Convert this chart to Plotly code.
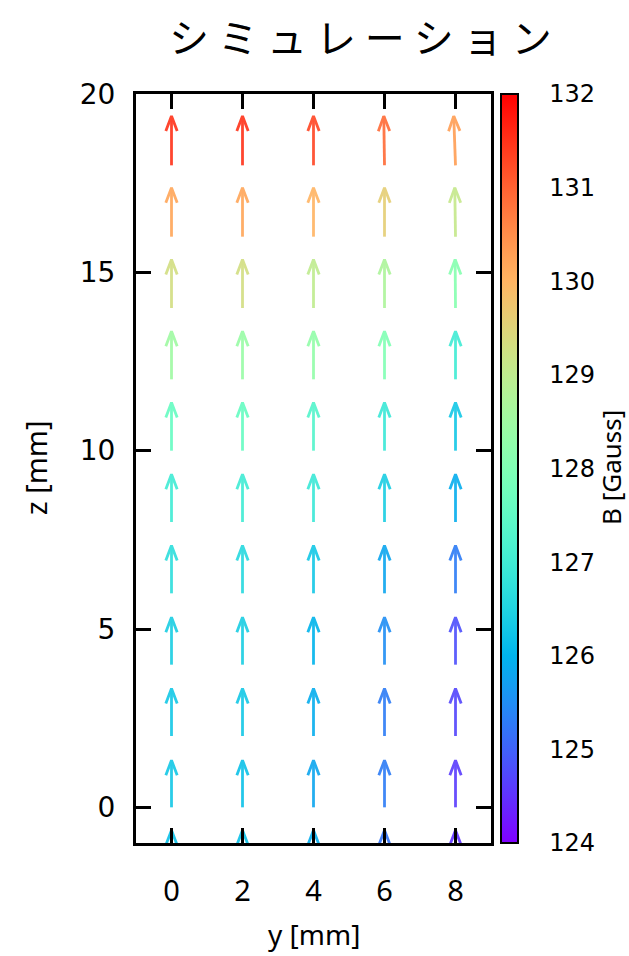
import math
import plotly.graph_objects as go
from plotly.colors import sample_colorscale

# ---------------- data ----------------
y_positions = [0, 2, 4, 6, 8]
z_positions = [-2, 0, 2, 4, 6, 8, 10, 12, 14, 16, 18]

# |B| in Gauss, one row per z position (bottom -> top), columns follow y_positions
B_z_m2 = [126.2, 126.2, 125.9, 125.2, 124.5]
B_z_0 = [126.3, 126.2, 125.8, 125.3, 124.6]
B_z_2 = [126.3, 126.3, 125.9, 125.3, 124.7]
B_z_4 = [126.4, 126.4, 126.0, 125.5, 124.8]
B_z_6 = [126.7, 126.6, 126.3, 125.8, 125.3]
B_z_8 = [127.0, 127.0, 126.9, 126.4, 125.9]
B_z_10 = [127.6, 127.6, 127.3, 126.9, 126.3]
B_z_12 = [128.5, 128.4, 128.3, 128.0, 127.0]
B_z_14 = [129.3, 129.3, 129.0, 128.7, 128.1]
B_z_16 = [130.2, 130.2, 130.0, 129.6, 129.1]
B_z_18 = [131.5, 131.5, 131.3, 130.9, 130.3]
B_rows = [B_z_m2, B_z_0, B_z_2, B_z_4, B_z_6, B_z_8, B_z_10, B_z_12, B_z_14, B_z_16, B_z_18]

# arrow components (mm) as drawn by the vector plot
dy_rows = [
    [0, 0, 0, 0, 0],
    [0, 0, 0, 0, 0],
    [0, 0, 0, 0, 0],
    [0, 0, 0, 0, 0],
    [0, 0, 0, 0, 0],
    [0, 0, 0, 0, 0],
    [0, 0, 0, 0, 0],
    [0, 0, 0, 0, 0],
    [0, 0, 0, 0, -0.01],
    [0, 0, 0, 0, -0.02],
    [0, 0, 0, -0.02, -0.05],
]
dz_rows = [
    [1.36, 1.36, 1.36, 1.36, 1.36],
    [1.32, 1.32, 1.32, 1.32, 1.32],
    [1.33, 1.33, 1.33, 1.33, 1.33],
    [1.33, 1.33, 1.33, 1.33, 1.33],
    [1.34, 1.34, 1.34, 1.34, 1.34],
    [1.34, 1.34, 1.34, 1.34, 1.34],
    [1.35, 1.35, 1.35, 1.35, 1.35],
    [1.35, 1.35, 1.35, 1.35, 1.35],
    [1.36, 1.36, 1.36, 1.36, 1.36],
    [1.37, 1.37, 1.37, 1.37, 1.37],
    [1.38, 1.38, 1.38, 1.38, 1.38],
]

cb_ticks = [124, 125, 126, 127, 128, 129, 130, 131, 132]
x_ticks = [0, 2, 4, 6, 8]
z_ticks = [0, 5, 10, 15, 20]
B_MIN, B_MAX = 124, 132

# ---------------- style ----------------
def rainbow(t):
    r = min(1.0, abs(2 * t - 0.5))
    g = math.sin(math.pi * t)
    b = math.cos(math.pi * t / 2)
    return "rgb(%d,%d,%d)" % (round(255 * r), round(255 * max(g, 0)), round(255 * max(b, 0)))

colorscale = [[i / 32, rainbow(i / 32)] for i in range(33)]

W, H = 629, 956
L_PX, R_PX, T_PX, B_PX = 136, 491, 94, 843
plot_w = R_PX - L_PX
plot_h = B_PX - T_PX

HEAD_LEN = 0.42
HEAD_HALF = 0.16
NUM_FONT = "DejaVu Sans"
TXT_FONT = "Noto Sans"

fig = go.Figure()

for zi, z0 in enumerate(z_positions):
    for yi, y0 in enumerate(y_positions):
        b = B_rows[zi][yi]
        dy = dy_rows[zi][yi]
        dz = dz_rows[zi][yi]
        y1, z1 = y0 + dy, z0 + dz
        ln = math.hypot(dy, dz)
        uy, uz = dy / ln, dz / ln
        ny, nz = -uz, uy
        by, bz = y1 - HEAD_LEN * uy, z1 - HEAD_LEN * uz
        col = sample_colorscale(colorscale, [(b - B_MIN) / (B_MAX - B_MIN)])[0]
        fig.add_trace(go.Scatter(
            x=[y0, y1, None, by + HEAD_HALF * ny, y1, by - HEAD_HALF * ny],
            y=[z0, z1, None, bz + HEAD_HALF * nz, z1, bz - HEAD_HALF * nz],
            mode="lines",
            line=dict(color=col, width=2.8),
            opacity=0.9,
            showlegend=False,
            hoverinfo="skip",
        ))

# colour bar carrier
cb_x = (501 - L_PX) / plot_w
cb_thick = 17
fig.add_trace(go.Scatter(
    x=[None], y=[None], mode="markers",
    marker=dict(
        color=[B_MIN], cmin=B_MIN, cmax=B_MAX, colorscale=colorscale,
        showscale=True,
        colorbar=dict(
            x=cb_x, xanchor="left", xpad=0, y=0.5, yanchor="middle", ypad=0,
            len=1, lenmode="fraction", thickness=cb_thick,
            outlinewidth=2, outlinecolor="black",
            tickvals=cb_ticks, ticks="outside", ticklen=26,
            tickcolor="rgba(0,0,0,0)",
            tickfont=dict(family=NUM_FONT, size=24, color="black"),
        ),
    ),
    showlegend=False, hoverinfo="skip",
))

shapes = []
for v in cb_ticks[1:-1]:
    yp = (v - B_MIN) / (B_MAX - B_MIN)
    shapes.append(dict(type="line", xref="paper", yref="paper",
                       x0=cb_x, x1=cb_x + cb_thick / plot_w, y0=yp, y1=yp,
                       line=dict(color="black", width=2)))

fig.update_layout(
    width=W, height=H,
    margin=dict(l=L_PX, r=W - R_PX, t=T_PX, b=H - B_PX, pad=0),
    paper_bgcolor="white", plot_bgcolor="white",
    shapes=shapes,
    annotations=[
        dict(text="シ ミ ュ レ ー シ ョ ン", xref="paper", yref="paper",
             x=(360 - L_PX) / plot_w, y=1 + (T_PX - 36) / plot_h,
             xanchor="center", yanchor="middle", showarrow=False,
             font=dict(family="Noto Sans CJK JP", size=40, color="black")),
        dict(text="y [mm]", xref="paper", yref="paper",
             x=(314 - L_PX) / plot_w, y=-(934 - B_PX) / plot_h,
             xanchor="center", yanchor="middle", showarrow=False,
             font=dict(family=TXT_FONT, size=28, color="black")),
        dict(text="z [mm]", xref="paper", yref="paper",
             x=-(L_PX - 35) / plot_w, y=(B_PX - 468) / plot_h,
             xanchor="center", yanchor="middle", showarrow=False, textangle=-90,
             font=dict(family=TXT_FONT, size=29, color="black")),
        dict(text="B [Gauss]", xref="paper", yref="paper",
             x=(611 - L_PX) / plot_w, y=(B_PX - 468) / plot_h,
             xanchor="center", yanchor="middle", showarrow=False, textangle=-90,
             font=dict(family=TXT_FONT, size=26, color="black")),
    ],
)

fig.update_xaxes(
    range=[-1, 9], tickvals=x_ticks, ticks="inside", ticklen=15, tickwidth=3,
    tickcolor="black", showline=True, linewidth=3, linecolor="black",
    mirror="ticks", showgrid=False, zeroline=False,
    tickfont=dict(family=TXT_FONT, size=29, color="black"),
    ticklabelstandoff=20,
)
fig.update_yaxes(
    range=[-1, 20], tickvals=z_ticks, ticks="inside", ticklen=15, tickwidth=3,
    tickcolor="black", showline=True, linewidth=3, linecolor="black",
    mirror="ticks", showgrid=False, zeroline=False,
    tickfont=dict(family=NUM_FONT, size=28, color="black"),
    ticklabelstandoff=12,
)

fig.write_html("out.html", config={"displayModeBar": False},
               post_script="document.body.style.margin='0';")
